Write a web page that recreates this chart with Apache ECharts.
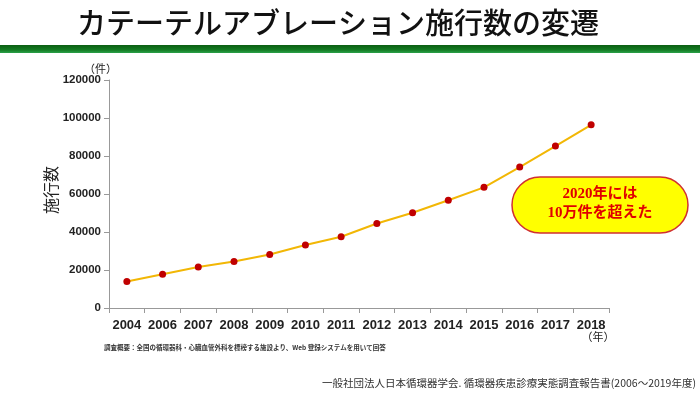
<!DOCTYPE html>
<html>
<head>
<meta charset="utf-8">
<script src="https://cdn.jsdelivr.net/npm/echarts@6/dist/echarts.min.js"></script>
<style>
  html, body { margin: 0; padding: 0; background: #fff; }
  #main { width: 700px; height: 397px; }
</style>
</head>
<body>
<div id="main"></div>
<script>
// 施行数の推移（2005年はデータなし）
var years = ["2004", "2006", "2007", "2008", "2009", "2010", "2011", "2012", "2013", "2014", "2015", "2016", "2017", "2018"];
var counts = [14000, 17800, 21600, 24500, 28200, 33200, 37500, 44500, 50100, 56700, 63500, 74200, 85200, 96400];
var yTicks = [0, 20000, 40000, 60000, 80000, 100000, 120000];

var jp = "'Noto Sans CJK JP', 'Noto Sans', sans-serif";
var num = "Arial, 'Liberation Sans', sans-serif";
var myChart = echarts.init(document.getElementById("main"));

myChart.setOption({
  animation: false,
  grid: { left: 109, right: 91, top: 80, bottom: 89 },
  xAxis: {
    type: "category",
    data: years,
    boundaryGap: true,
    axisLine: { lineStyle: { color: "#999", width: 1 } },
    axisTick: { show: true, interval: 0, length: 5, lineStyle: { color: "#999" } },
    axisLabel: { interval: 0, color: "#222", fontSize: 13, fontWeight: "bold", fontFamily: num, margin: 11 }
  },
  yAxis: {
    type: "value",
    min: yTicks[0],
    max: yTicks[yTicks.length - 1],
    interval: 20000,
    name: "（件）",
    nameGap: 6,
    nameTextStyle: { color: "#222", fontSize: 11, fontFamily: jp, align: "right", padding: [0, -8, 0, 0] },
    splitLine: { show: false },
    axisLine: { show: true, lineStyle: { color: "#999", width: 1 } },
    axisTick: { show: true, length: 5, lineStyle: { color: "#999" } },
    axisLabel: { color: "#222", fontSize: 11.5, fontWeight: "bold", fontFamily: num, margin: 8, formatter: function (v) { return String(v); } }
  },
  series: [
    {
      type: "line",
      data: counts,
      symbol: "circle",
      symbolSize: 7,
      lineStyle: { color: "#f2b705", width: 2 },
      itemStyle: { color: "#c00000" },
      z: 3
    }
  ],
  graphic: [
    // タイトル
    {
      type: "text", x: 338, y: 23,
      style: { text: "カテーテルアブレーション施行数の変遷", font: "500 29px " + jp, fill: "#111", align: "center", verticalAlign: "middle" }
    },
    {
      type: "rect", shape: { x: 0, y: 45, width: 700, height: 8 },
      style: {
        fill: new echarts.graphic.LinearGradient(0, 0, 0, 1, [
          { offset: 0, color: "#0b5e12" },
          { offset: 0.6, color: "#137a22" },
          { offset: 1, color: "#2aa24a" }
        ])
      }
    },
    // 縦軸タイトル
    {
      type: "text", x: 51, y: 190, rotation: Math.PI / 2,
      style: { text: "施行数", font: "16px " + jp, fill: "#222", align: "center", verticalAlign: "middle" }
    },
    // 横軸単位
    {
      type: "text", x: 598, y: 337,
      style: { text: "（年）", font: "11px " + jp, fill: "#222", align: "center", verticalAlign: "middle" }
    },
    // 吹き出し
    {
      type: "rect", shape: { x: 512, y: 177, width: 176, height: 56, r: 28 },
      style: { fill: "#ffff00", stroke: "#d03030", lineWidth: 1.5 }
    },
    {
      type: "text", x: 600, y: 194,
      style: { text: "2020年には", font: "bold 15px 'Liberation Serif', " + jp, fill: "#e00000", align: "center", verticalAlign: "middle" }
    },
    {
      type: "text", x: 600, y: 213,
      style: { text: "10万件を超えた", font: "bold 15px 'Liberation Serif', " + jp, fill: "#e00000", align: "center", verticalAlign: "middle" }
    },
    // 注記
    {
      type: "text", x: 104, y: 348,
      style: { text: "調査概要：全国の循環器科・心臓血管外科を標榜する施設より、Web 登録システムを用いて回答", font: "bold 6.5px " + jp, fill: "#333", verticalAlign: "middle" }
    },
    {
      type: "text", x: 696, y: 383,
      style: { text: "一般社団法人日本循環器学会. 循環器疾患診療実態調査報告書(2006〜2019年度)", font: "10.5px " + jp, fill: "#333", align: "right", verticalAlign: "middle" }
    }
  ]
});
</script>
</body>
</html>
